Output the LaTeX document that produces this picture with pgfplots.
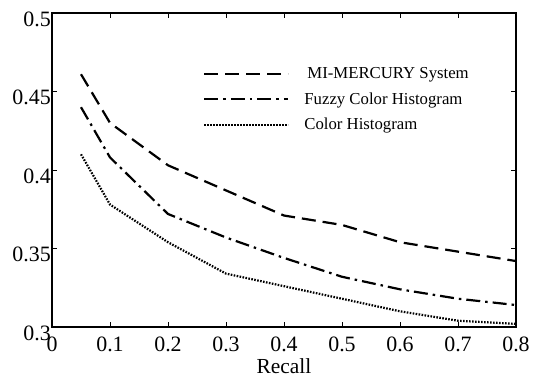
\documentclass[border=0pt]{standalone}
\usepackage{fontspec}
\setmainfont{Liberation Serif}
\usepackage{pgfplots}
\pgfplotsset{compat=1.18}
\begin{document}
\begin{tikzpicture}
\begin{axis}[name=ax,
  scale only axis, width=464bp, height=314bp,
  xmin=0, xmax=0.8, ymin=0.3, ymax=0.5,
  xtick={0,0.1,...,0.8}, ytick={0.3,0.35,0.4,0.45,0.5},
  xticklabels={0,0.1,0.2,0.3,0.4,0.5,0.6,0.7,0.8},
  yticklabels={0.3,0.35,0.4,0.45,0.5},
  tick align=inside, tick pos=both, major tick length=5bp,
  axis line style={line width=1.5bp}, tick style={line width=0.8bp, black},
  ticklabel style={font=\fontsize{22}{26}\selectfont},
  yticklabel style={inner xsep=1bp, yshift=-6bp},
  xticklabel style={inner ysep=2bp, yshift=-8bp},
  xlabel={Recall}, xlabel style={font=\fontsize{21.5}{26}\selectfont, inner ysep=0bp, text depth=0pt, yshift=-4bp},
  legend style={draw=none, fill=none, at={(0.319,0.84)}, anchor=north west,
    font=\fontsize{16.8}{19}\selectfont, row sep=8.5bp,
    nodes={inner xsep=2bp}, /tikz/every odd column/.style={column sep=13bp}},
  legend cell align=left,
  legend image code/.code={\draw[#1] (0bp,0bp) -- (84bp,0bp);},
  every axis plot/.append style={line width=2.2bp, black},
]
\addplot[dash pattern=on 14bp off 7bp] coordinates {
(0.05,0.461) (0.1,0.430) (0.2,0.403) (0.3,0.387) (0.4,0.371) (0.5,0.365) (0.6,0.354) (0.7,0.348) (0.8,0.342)};
\addlegendentry{\hspace{3bp}MI-MERCURY System}
\addplot[dash pattern=on 14bp off 5bp on 2.5bp off 5bp] coordinates {
(0.05,0.440) (0.1,0.408) (0.2,0.372) (0.3,0.357) (0.4,0.344) (0.5,0.332) (0.6,0.324) (0.7,0.318) (0.8,0.314)};
\addlegendentry{Fuzzy Color Histogram}
\addplot[dash pattern=on 1.6bp off 1.4bp] coordinates {
(0.05,0.410) (0.1,0.378) (0.2,0.354) (0.3,0.334) (0.4,0.326) (0.5,0.318) (0.6,0.310) (0.7,0.304) (0.8,0.302)};
\addlegendentry{Color Histogram}
\end{axis}
\pgfresetboundingbox
\path (ax.south west) ++(-52bp,-51bp) rectangle ([shift={(26bp,13bp)}]ax.north east);
\end{tikzpicture}
\end{document}
